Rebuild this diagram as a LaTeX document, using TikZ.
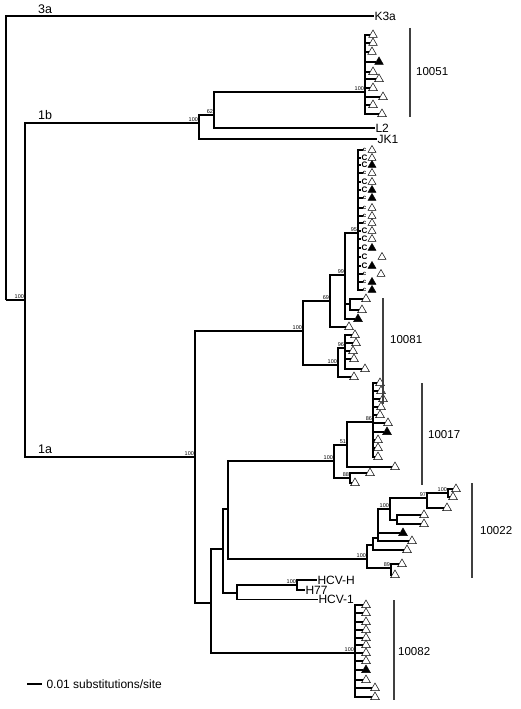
\documentclass[tikz,border=0pt]{standalone}
\usepackage{fontspec}
\setmainfont{Liberation Sans}
\usetikzlibrary{shapes.geometric}
\begin{document}
\begin{tikzpicture}[x=1pt,y=-1pt,
 br/.style={line width=1.7pt, line join=miter},
 tri/.style={regular polygon, regular polygon sides=3, draw, line width=0.5pt, inner sep=0pt, minimum size=10pt},
 lab/.style={font=\fontsize{12}{12}\selectfont, inner sep=0.3pt, anchor=west},
 boot/.style={font=\fontsize{5.5}{5.5}\selectfont, inner sep=0.4pt, anchor=south east, xshift=-0.5pt, yshift=0.8pt},
 clade/.style={font=\fontsize{12.5}{12.5}\selectfont, inner sep=0pt, anchor=south west},
 num/.style={font=\fontsize{11.5}{11.5}\selectfont, inner sep=0pt, anchor=west},
 bar/.style={line width=1.2pt, draw=black!75}]
\useasboundingbox (0,0) rectangle (520,709);
% internal nodes
\coordinate (r0) at (6,300);
\coordinate (n1) at (25,300);
\coordinate (n1b) at (199,123);
\coordinate (n62) at (214,115);
\coordinate (n51) at (365,92);
\coordinate (n1a) at (195,457);
\coordinate (n81) at (303,331);
\coordinate (n69) at (330,301);
\coordinate (n99) at (345,275);
\coordinate (n95) at (358,233);
\coordinate (nsub) at (350,304);
\coordinate (n81c) at (338,365);
\coordinate (n96) at (345,348);
\coordinate (n1a2) at (211,603);
\coordinate (n1a3) at (223,549);
\coordinate (n1a4) at (228,509);
\coordinate (nhcv) at (237,593);
\coordinate (nh100) at (297,585);
\coordinate (n17) at (334,461);
\coordinate (n51b) at (347,445);
\coordinate (n86) at (373,422);
\coordinate (n88) at (350,478);
\coordinate (n22) at (367,559);
\coordinate (n89) at (391,568);
\coordinate (n22b) at (373,545);
\coordinate (n22c) at (378,538);
\coordinate (n22d) at (390,509);
\coordinate (n22e) at (397,520);
\coordinate (n97) at (427,498);
\coordinate (n100b) at (448,493);
\coordinate (n82) at (355,653);
% labelled leaves
\node[lab] (k3a) at (374,16) {K3a};
\node[lab] (l2) at (375,128) {L2};
\node[lab] (jk1) at (377,139) {JK1};
\node[lab] (hcvh) at (317,580) {HCV-H};
\node[lab] (h77) at (305,590) {H77};
\node[lab] (hcv1) at (318,599.5) {HCV-1};
% internal edges
\draw[br] (r0) |- (k3a.west);
\draw[br] (r0) -- (n1);
\foreach \p/\c in {n1/n1b, n1/n1a, n1b/n62, n62/n51, n1a/n81, n1a/n1a2,
  n81/n69, n81/n81c, n69/n99, n99/n95, n99/nsub, n81c/n96,
  n1a2/n1a3, n1a2/n82, n1a3/n1a4, n1a3/nhcv, nhcv/nh100,
  n1a4/n17, n1a4/n22, n17/n51b, n17/n88, n51b/n86,
  n22/n22b, n22/n89, n22b/n22c, n22c/n22d, n22d/n22e, n22d/n97, n97/n100b}
  {\draw[br] (\p) |- (\c);}
\draw[br] (n62) |- (l2.west);
\draw[br] (n1b) |- (jk1.west);
\draw[br] (nh100) |- (hcvh.west);
\draw[br] (nh100) |- (h77.west);
\draw[br] (nhcv) |- (hcv1.west);
% triangle leaves
\foreach \p/\y/\x/\f [count=\i] in {
  n51/35/373/white, n51/43/373/white, n51/52/372/white, n51/62/379/black,
  n51/72/373/white, n51/79/379/white, n51/88/373/white, n51/97/383/white,
  n51/105/373/white, n51/114/382/white,
  n69/327/349/white, n99/319/358/black, nsub/299/366/white, nsub/310/362/white,
  n81c/377/354/white,
  n96/335/355/white, n96/343/356/white, n96/351/353/white, n96/359/354/white, n96/369/365/white,
  n86/383/380/white, n86/391/381/white, n86/399/383/white, n86/407/381/white,
  n86/415/380/white, n86/423/388/white, n86/432/387/black, n86/440/378/white,
  n86/448/378/white, n86/457/378/white,
  n51b/467/395/white, n88/473/370/white, n88/483/355/white,
  n89/564/402/white, n89/575/395/white, n22b/550/407/white,
  n22c/533/403/black, n22c/541/412/white, n22e/515/424/white, n22e/524/424/white,
  n97/508/447/white, n100b/489/456/white, n100b/497/453/white,
  n82/605/366/white, n82/613/366/white, n82/622/366/white, n82/630/366/white,
  n82/638/366/white, n82/645/366/white, n82/653/366/white, n82/661/366/white,
  n82/670/366/black, n82/680/366/white, n82/688/375/white, n82/697/375/white}
  {\node[tri, fill=\f] (t\i) at (\x,\y) {};
   \draw[br] (\p) |- (t\i.west);}
% C-labelled leaves of clade 95
\foreach \y/\fs/\ch/\tx/\f [count=\i] in {
  150/6/c/372/white, 158/8/C/372/white, 165/8/C/372/black, 173/6/c/372/white,
  182/8/C/372/white, 190/8/C/372/black, 198/6/c/372/black, 208/6/c/372/white,
  216/6/c/372/white, 223/6/c/372/white, 231/8/C/372/white, 239/8/C/372/white,
  248/8/C/372/black, 257/8/C/382/white, 266/8/C/372/black, 274/6/c/381/white,
  282/6/c/372/black, 290/6/c/372/black}
  {\node[font=\bfseries\fontsize{\fs}{\fs}\selectfont, inner sep=0pt] (c\i) at (364.5,\y) {\ch};
   \node[tri, fill=\f, minimum size=9pt] (tc\i) at (\tx,\y) {};
   \draw[br] (n95) |- (c\i.west);}
% bootstrap values
\foreach \n/\v in {n1/100, n1b/100, n62/62, n51/100, n1a/100, n81/100, n69/69,
  n99/99, n95/95, n81c/100, n96/96, n17/100, n51b/51, n86/86, n88/88, n22/100,
  n22d/100, n97/97, n100b/100, n89/89, nh100/100, n82/100}
  {\node[boot] (b\n) at (\n) {\v};}
% clade names
\node[clade] (g3a) at (38,14) {3a};
\node[clade] (g1b) at (38,120) {1b};
\node[clade] (g1a) at (38,454) {1a};
% patient bars
\draw[bar] (410,28) -- (410,117);
\node[num] (p51) at (416,72) {10051};
\draw[bar] (383,298) -- (383,404);
\node[num] (p81) at (390,340) {10081};
\draw[bar] (422,383) -- (422,485);
\node[num] (p17) at (428,435) {10017};
\draw[bar] (472,483) -- (472,578);
\node[num] (p22) at (480,531) {10022};
\draw[bar] (394,600) -- (394,700);
\node[num] (p82) at (398,652) {10082};
% scale bar
\coordinate (s1) at (27,684);
\coordinate (s2) at (42,684);
\draw[br] (s1) -- (s2);
\node[lab] (stext) at (46,684) {0.01 substitutions/site};
\end{tikzpicture}
\end{document}
